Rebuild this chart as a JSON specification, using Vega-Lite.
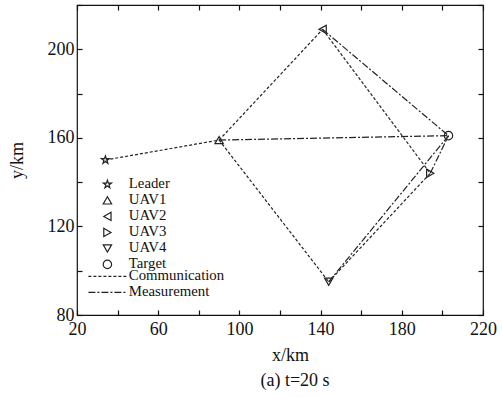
{
  "$schema": "https://vega.github.io/schema/vega-lite/v6.json",
  "width": 406,
  "height": 310,
  "autosize": {"type": "none"},
  "padding": {"left": 77, "top": 5, "right": 19, "bottom": 82},
  "background": "white",
  "config": {
    "view": {"stroke": "#111", "strokeWidth": 1.2},
    "font": "Liberation Serif",
    "axis": {"grid": false, "domain": false, "tickColor": "#111", "tickSize": -5, "tickWidth": 1.2, "labelFont": "Liberation Serif", "labelFontSize": 18, "labelColor": "#111", "titleFont": "Liberation Serif", "titleFontSize": 18, "titleFontWeight": "normal", "titleColor": "#111"},
    "legend": {"labelFont": "Liberation Serif", "labelFontSize": 14.8, "labelColor": "#111", "padding": 0, "rowPadding": 0}
  },
  "title": {"text": "(a) t=20 s", "orient": "bottom", "anchor": "middle", "font": "Liberation Serif", "fontSize": 18, "fontWeight": "normal", "color": "#111", "offset": 8, "dx": 15},
  "datasets": {
    "pts": [
      {"name": "Leader", "x": 34, "y": 150},
      {"name": "UAV1", "x": 90, "y": 159},
      {"name": "UAV2", "x": 141, "y": 209},
      {"name": "UAV3", "x": 194, "y": 144},
      {"name": "UAV4", "x": 144, "y": 95},
      {"name": "Target", "x": 203, "y": 161}
    ],
    "edges": [
      {"edge": "c1", "type": "Communication", "ord": 0, "x": 34, "y": 150},
      {"edge": "c1", "type": "Communication", "ord": 1, "x": 90, "y": 159},
      {"edge": "c2", "type": "Communication", "ord": 0, "x": 90, "y": 159},
      {"edge": "c2", "type": "Communication", "ord": 1, "x": 141, "y": 209},
      {"edge": "c3", "type": "Communication", "ord": 0, "x": 90, "y": 159},
      {"edge": "c3", "type": "Communication", "ord": 1, "x": 144, "y": 95},
      {"edge": "c4", "type": "Communication", "ord": 0, "x": 141, "y": 209},
      {"edge": "c4", "type": "Communication", "ord": 1, "x": 194, "y": 144},
      {"edge": "c5", "type": "Communication", "ord": 0, "x": 144, "y": 95},
      {"edge": "c5", "type": "Communication", "ord": 1, "x": 194, "y": 144},
      {"edge": "m1", "type": "Measurement", "ord": 0, "x": 90, "y": 159},
      {"edge": "m1", "type": "Measurement", "ord": 1, "x": 203, "y": 161},
      {"edge": "m2", "type": "Measurement", "ord": 0, "x": 141, "y": 209},
      {"edge": "m2", "type": "Measurement", "ord": 1, "x": 203, "y": 161},
      {"edge": "m3", "type": "Measurement", "ord": 0, "x": 194, "y": 144},
      {"edge": "m3", "type": "Measurement", "ord": 1, "x": 203, "y": 161},
      {"edge": "m4", "type": "Measurement", "ord": 0, "x": 144, "y": 95},
      {"edge": "m4", "type": "Measurement", "ord": 1, "x": 203, "y": 161}
    ]
  },
  "layer": [
    {
      "data": {"name": "edges"},
      "mark": {"type": "line", "stroke": "#222", "strokeWidth": 1.2},
      "encoding": {
        "x": {"field": "x", "type": "quantitative", "scale": {"domain": [20, 220], "nice": false, "zero": false},
              "axis": {"orient": "bottom", "title": "x/km", "values": [20, 40, 60, 80, 100, 120, 140, 160, 180, 200, 220], "labelExpr": "datum.value % 40 == 20 ? datum.label : ''", "labelPadding": 10, "titlePadding": 8, "labelFlush": false, "labelOverlap": false, "titleX": 213}},
        "y": {"field": "y", "type": "quantitative", "scale": {"domain": [80, 220], "nice": false, "zero": false},
              "axis": {"orient": "left", "title": "y/km", "values": [80, 100, 120, 140, 160, 180, 200, 220], "labelExpr": "datum.value % 40 == 0 && datum.value < 220 ? datum.label : ''", "labelPadding": 8, "titlePadding": 21, "labelFlush": false, "labelOverlap": false}},
        "detail": {"field": "edge"},
        "order": {"field": "ord"},
        "strokeDash": {"field": "type", "type": "nominal", "scale": {"domain": ["Communication", "Measurement"], "range": [[3, 2], [7, 2, 2, 2]]},
                       "legend": {"title": null, "orient": "none", "legendX": 23, "legendY": 264, "symbolType": "M-3.8,0L3.8,0", "symbolSize": 100, "symbolStrokeColor": "#222", "symbolStrokeWidth": 1.2, "labelOffset": 14}}
      }
    },
    {
      "data": {"name": "pts"},
      "mark": {"type": "point", "filled": false, "stroke": "#222", "strokeWidth": 1.2, "size": 70, "opacity": 1},
      "encoding": {
        "x": {"field": "x", "type": "quantitative", "axis": {"orient": "top", "title": null, "labels": false, "values": [20, 40, 60, 80, 100, 120, 140, 160, 180, 200, 220]}},
        "y": {"field": "y", "type": "quantitative", "axis": {"orient": "right", "title": null, "labels": false, "values": [80, 100, 120, 140, 160, 180, 200, 220]}},
        "shape": {"field": "name", "type": "nominal", "scale": {"domain": ["Leader", "UAV1", "UAV2", "UAV3", "UAV4", "Target"], "range": ["M0,-1L0.2245,-0.309L0.951,-0.309L0.363,0.118L0.588,0.809L0,0.382L-0.588,0.809L-0.363,0.118L-0.951,-0.309L-0.2245,-0.309Z", "triangle-up", "triangle-left", "triangle-right", "triangle-down", "circle"]},
                  "legend": {"title": null, "orient": "none", "legendX": 23, "legendY": 172, "symbolStrokeColor": "#222", "symbolFillColor": "transparent", "symbolSize": 70, "symbolStrokeWidth": 1.2, "labelOffset": 14}}
      }
    }
  ],
  "resolve": {"axis": {"x": "independent", "y": "independent"}}
}
